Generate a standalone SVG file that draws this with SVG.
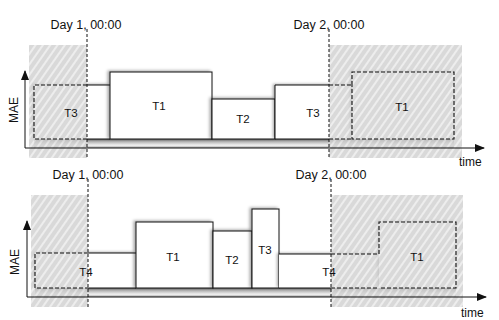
<svg xmlns="http://www.w3.org/2000/svg" width="499" height="320" viewBox="0 0 499 320">
<style>
text{font-family:"Liberation Sans",Arial,sans-serif;fill:#111}
.lbl{font-size:11.5px;text-anchor:middle}
.day{font-size:12.5px;text-anchor:middle}
.ax{font-size:12px}
.box{fill:#fff;stroke:#111;stroke-width:1}
.fill{fill:#fff;stroke:none}
.solid{fill:none;stroke:#111;stroke-width:1}
.dash{fill:none;stroke:#111;stroke-width:1.1;stroke-dasharray:4,2}
.axis{fill:none;stroke:#111;stroke-width:1}
.dayline{fill:none;stroke:#111;stroke-width:1;stroke-dasharray:3,2}
.region{fill:url(#hatch);opacity:0.8}
</style>
<defs>
<pattern id="hatch" patternUnits="userSpaceOnUse" width="6" height="6" patternTransform="rotate(35)">
<rect width="6" height="6" fill="#d0d0d0"/>
<line x1="1" y1="0" x2="1" y2="6" stroke="#f4f4f4" stroke-width="1.4"/>
</pattern>
<linearGradient id="bar" x1="0" y1="0" x2="0" y2="1">
<stop offset="0" stop-color="#666"/>
<stop offset="0.3" stop-color="#b5b5b5"/>
<stop offset="0.7" stop-color="#f2f2f2"/>
<stop offset="1" stop-color="#a0a0a0"/>
</linearGradient>
<filter id="sh" x="-20%" y="-20%" width="140%" height="140%">
<feDropShadow dx="-2" dy="-1" stdDeviation="1.6" flood-color="#000" flood-opacity="0.35"/>
</filter>
<marker id="arr" markerWidth="10" markerHeight="8" refX="9" refY="4" orient="auto" markerUnits="userSpaceOnUse">
<path d="M0,0 L10,4 L0,8 Z" fill="#111"/>
</marker>
</defs>

<!-- ===== TOP PANEL ===== -->
<rect x="34" y="139" width="420" height="9" fill="url(#bar)"/>
<g id="top-T3a">
<rect class="fill" x="34" y="85" width="76" height="54" filter="url(#sh)"/>
<path class="solid" d="M87,85 H110 M87,139 H110"/>
</g>
<g id="top-T1a">
<rect class="box" x="110" y="72" width="102" height="67" filter="url(#sh)"/>
<text class="lbl" x="159" y="110">T1</text>
</g>
<g id="top-T2">
<rect class="box" x="212" y="99" width="63" height="40" filter="url(#sh)"/>
<text class="lbl" x="243" y="123">T2</text>
</g>
<g id="top-T3b">
<rect class="fill" x="275" y="85" width="77" height="54" filter="url(#sh)"/>
<path class="solid" d="M329,85 H275 V139 H329"/>
<text class="lbl" x="313" y="117">T3</text>
</g>
<g id="top-T1b">
<rect class="fill" x="352" y="72" width="102" height="67" filter="url(#sh)"/>
</g>

<rect class="region" x="29" y="45" width="58" height="113"/>
<rect class="region" x="329" y="45" width="133" height="113"/>

<path class="dash" d="M87,85 H34 V139 H87"/>
<path class="dash" d="M329,85 H352 M329,139 H352"/>
<path class="dash" d="M352,85 V72 H454 V139 H352 Z"/>
<text class="lbl" x="71" y="117">T3</text>
<text class="lbl" x="402" y="111">T1</text>

<!-- ===== BOTTOM PANEL ===== -->
<rect x="35" y="288" width="421" height="9" fill="url(#bar)"/>
<g id="bot-T4a">
<rect class="fill" x="35" y="253" width="101" height="35" filter="url(#sh)"/>
<path class="solid" d="M88,253 H136 M88,288 H136"/>
</g>
<g id="bot-T1a">
<rect class="box" x="136" y="222" width="77" height="66" filter="url(#sh)"/>
<text class="lbl" x="173" y="261">T1</text>
</g>
<g id="bot-T2">
<rect class="box" x="213" y="231" width="39" height="57" filter="url(#sh)"/>
<text class="lbl" x="232" y="264">T2</text>
</g>
<g id="bot-T3">
<rect class="box" x="252" y="209" width="27" height="79" filter="url(#sh)"/>
<text class="lbl" x="265" y="254">T3</text>
</g>
<g id="bot-T4b">
<rect class="fill" x="279" y="254" width="100" height="34" filter="url(#sh)"/>
<path class="solid" d="M331,254 H279 M279,288 H331"/>
</g>
<g id="bot-T1b">
<rect class="fill" x="379" y="222" width="77" height="66" filter="url(#sh)"/>
</g>

<rect class="region" x="31" y="195" width="57" height="112"/>
<rect class="region" x="331" y="195" width="132" height="112"/>

<path class="dash" d="M88,253 H35 V288 H88"/>
<path class="dash" d="M331,254 H379 M331,288 H379"/>
<path class="dash" d="M379,254 V222 H456 V288 H379"/>
<text class="lbl" x="86" y="276">T4</text>
<text class="lbl" x="329" y="276">T4</text>
<text class="lbl" x="417" y="261">T1</text>

<!-- ===== connectors: axes & day markers ===== -->
<g id="connectors">
<path class="axis" d="M25,148 V71" marker-end="url(#arr)"/>
<path class="axis" d="M25,148 H484" marker-end="url(#arr)"/>
<path class="axis" d="M27,297 V221" marker-end="url(#arr)"/>
<path class="axis" d="M27,297 H486" marker-end="url(#arr)"/>
<path class="dayline" d="M87,29 V158"/>
<path class="dayline" d="M329,29 V158"/>
<path class="dayline" d="M88,179 V307"/>
<path class="dayline" d="M331,179 V307"/>
</g>

<text class="day" x="86" y="29">Day 1, 00:00</text>
<text class="day" x="329" y="29">Day 2, 00:00</text>
<text class="day" x="88" y="179">Day 1, 00:00</text>
<text class="day" x="331" y="179">Day 2, 00:00</text>
<text class="ax" x="459" y="166">time</text>
<text class="ax" x="461" y="317">time</text>
<text class="ax" transform="translate(18,110) rotate(-90)" text-anchor="middle">MAE</text>
<text class="ax" transform="translate(19,262) rotate(-90)" text-anchor="middle">MAE</text>
</svg>
